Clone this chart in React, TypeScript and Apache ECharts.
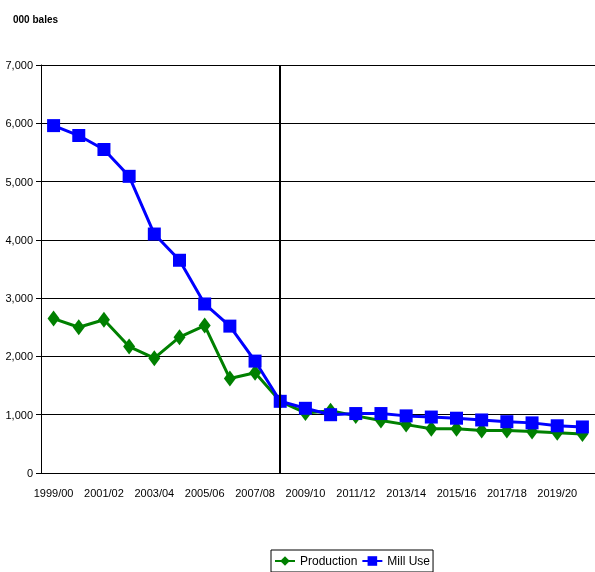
import * as echarts from "echarts"
import { useEffect, useRef } from "react"

const categories = [
  "1999/00", "2000/01", "2001/02", "2002/03", "2003/04", "2004/05", "2005/06", "2006/07",
  "2007/08", "2008/09", "2009/10", "2010/11", "2011/12", "2012/13", "2013/14", "2014/15",
  "2015/16", "2016/17", "2017/18", "2018/19", "2019/20", "2020/21",
]
const production = [
  2650, 2500, 2630, 2170, 1970, 2330, 2530, 1620, 1720, 1230, 1030, 1070, 980, 900, 830, 760,
  760, 730, 730, 710, 690, 670,
]
const millUse = [
  5960, 5790, 5550, 5090, 4100, 3650, 2900, 2520, 1920, 1230, 1110, 1000, 1020, 1020, 980, 960,
  940, 910, 880, 860, 810, 790,
]
const dividerAt = "2008/09"

export default function App() {
  const ref = useRef<HTMLDivElement>(null)

  useEffect(() => {
    if (!ref.current) return
    const chart = echarts.init(ref.current, null, { renderer: "svg" })
    const font = "'Liberation Sans', sans-serif"
    chart.setOption({
      animation: false,
      textStyle: { fontFamily: font },
      title: {
        text: "000 bales",
        left: 8,
        top: 9,
        textStyle: { fontSize: 10, fontWeight: "bold", color: "#000", fontFamily: font },
      },
      legend: {
        bottom: 0,
        left: 271,
        itemGap: 4,
        itemWidth: 20,
        itemHeight: 12,
        borderColor: "#000",
        borderWidth: 1,
        padding: [5, 3],
        textStyle: { fontSize: 12, color: "#000", fontFamily: font },
      },
      grid: { left: 41, right: -7, top: 65, bottom: 99 },
      xAxis: {
        type: "category",
        data: categories,
        axisLine: { lineStyle: { color: "#000" } },
        axisTick: { interval: 0, lineStyle: { color: "#000" } },
        axisLabel: { interval: 1, color: "#000", fontSize: 11, margin: 14, fontFamily: font },
      },
      yAxis: {
        type: "value",
        min: 0,
        max: 7000,
        interval: 1000,
        axisLine: { show: true, lineStyle: { color: "#000" } },
        axisTick: { show: true, lineStyle: { color: "#000" } },
        axisLabel: {
          color: "#000",
          fontSize: 11,
          fontFamily: font,
          formatter: (v: number) => v.toLocaleString("en-US"),
        },
        splitLine: { lineStyle: { color: "#000", width: 1 } },
      },
      series: [
        {
          name: "Production",
          type: "line",
          data: production,
          symbol: "diamond",
          symbolSize: [12, 16],
          lineStyle: { color: "#008000", width: 3 },
          itemStyle: { color: "#008000" },
        },
        {
          name: "Mill Use",
          type: "line",
          data: millUse,
          symbol: "rect",
          symbolSize: 13,
          lineStyle: { color: "#0000ff", width: 3 },
          itemStyle: { color: "#0000ff" },
          markLine: {
            symbol: "none",
            silent: true,
            label: { show: false },
            lineStyle: { color: "#000", width: 2, type: "solid" },
            data: [{ xAxis: dividerAt }],
          },
        },
      ],
    })
    return () => chart.dispose()
  }, [])

  return (
    <div
      ref={ref}
      style={{ position: "fixed", left: 0, top: 0, width: 595, height: 572 }}
    />
  )
}
